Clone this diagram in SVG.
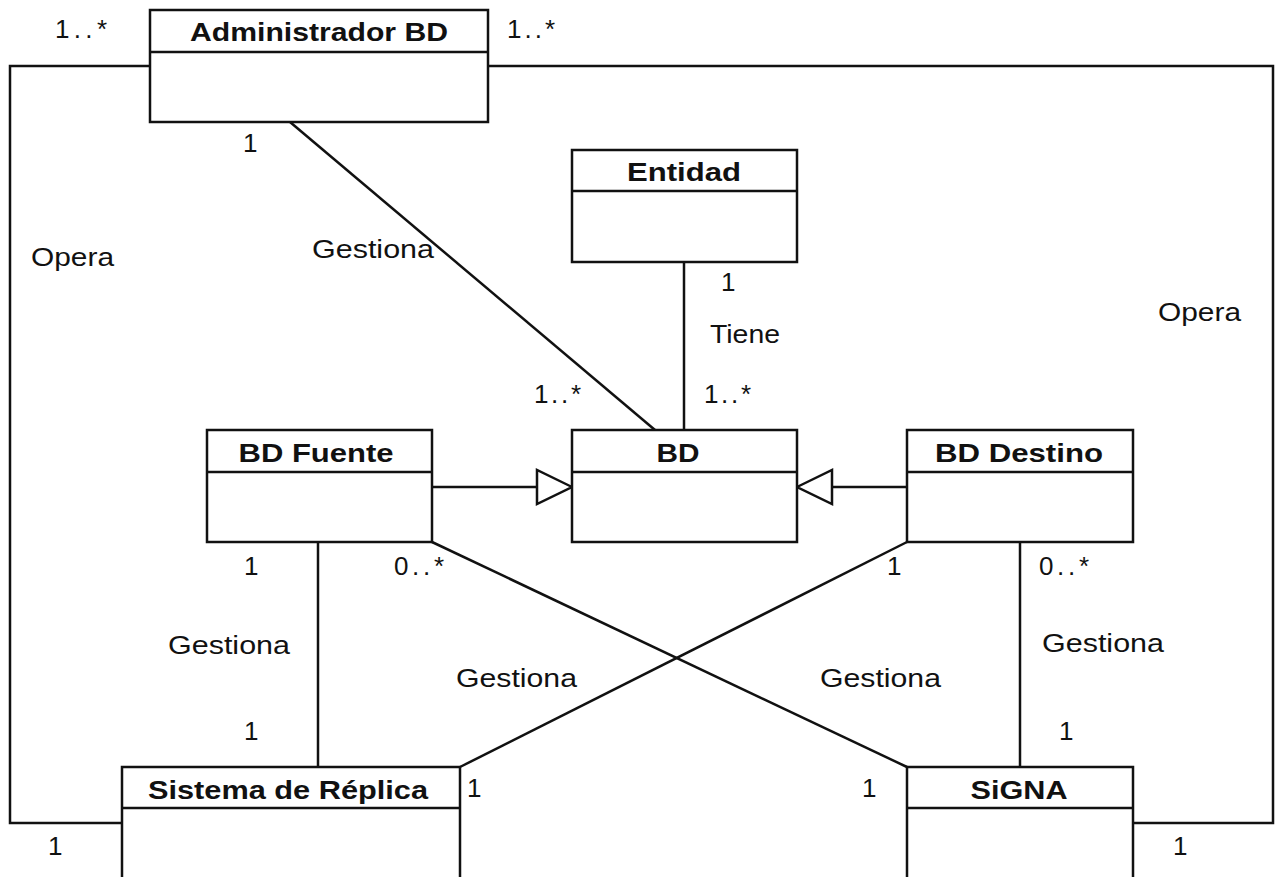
<svg xmlns="http://www.w3.org/2000/svg" width="1277" height="877" viewBox="0 0 1277 877">
  <style>
    .box { fill: #ffffff; stroke: #111111; stroke-width: 2.5; }
    .div { stroke: #111111; stroke-width: 2.5; }
    .title { font-family: "Liberation Sans", Arial, sans-serif; font-weight: bold; font-size: 26px; fill: #111111; text-anchor: middle; }
    .lbl { font-family: "Liberation Sans", Arial, sans-serif; font-size: 26px; fill: #111111; }
    .edge { fill: none; stroke: #111111; stroke-width: 2.5; }
    .gen { fill: #ffffff; stroke: #111111; stroke-width: 2.5; stroke-linejoin: miter; }
  </style>
  <rect width="1277" height="877" fill="#ffffff"/>

  <!-- associations and generalizations -->
  <g id="connectors">
    <!-- Opera (left loop) -->
    <polyline class="edge" points="150,66 10,66 10,823 122,823"/>
    <!-- Opera (right loop) -->
    <polyline class="edge" points="488,66 1273,66 1273,823 1133,823"/>
    <!-- Administrador BD - BD -->
    <line class="edge" x1="290" y1="122" x2="655" y2="430"/>
    <!-- Entidad - BD -->
    <line class="edge" x1="684" y1="262" x2="684" y2="430"/>
    <!-- BD Fuente generalizes to BD -->
    <line class="edge" x1="432" y1="487" x2="537" y2="487"/>
    <polygon class="gen" points="572,487 537,470 537,504"/>
    <!-- BD Destino generalizes to BD -->
    <line class="edge" x1="907" y1="487" x2="832" y2="487"/>
    <polygon class="gen" points="797,487 832,470 832,504"/>
    <!-- BD Fuente - Sistema de Réplica -->
    <line class="edge" x1="318" y1="542" x2="318" y2="767"/>
    <!-- BD Fuente - SiGNA -->
    <line class="edge" x1="432" y1="542" x2="907" y2="767"/>
    <!-- BD Destino - Sistema de Réplica -->
    <line class="edge" x1="907" y1="542" x2="460" y2="767"/>
    <!-- BD Destino - SiGNA -->
    <line class="edge" x1="1020" y1="542" x2="1020" y2="767"/>
  </g>

  <!-- association labels and multiplicities -->
  <g id="labels" class="lbl">
    <text x="55" y="38" textLength="52" lengthAdjust="spacing">1..*</text>
    <text x="507" y="38" textLength="48" lengthAdjust="spacing">1..*</text>
    <text x="243" y="152">1</text>
    <text x="312" y="258" textLength="122" lengthAdjust="spacingAndGlyphs">Gestiona</text>
    <text x="31" y="266" textLength="83" lengthAdjust="spacingAndGlyphs">Opera</text>
    <text x="1158" y="321" textLength="83" lengthAdjust="spacingAndGlyphs">Opera</text>
    <text x="721" y="291">1</text>
    <text x="710" y="343" textLength="70" lengthAdjust="spacingAndGlyphs">Tiene</text>
    <text x="704" y="403" textLength="47" lengthAdjust="spacing">1..*</text>
    <text x="534" y="403" textLength="47" lengthAdjust="spacing">1..*</text>
    <text x="244" y="575">1</text>
    <text x="394" y="575" textLength="50" lengthAdjust="spacing">0..*</text>
    <text x="887" y="575">1</text>
    <text x="1039" y="575" textLength="50" lengthAdjust="spacing">0..*</text>
    <text x="168" y="654" textLength="122" lengthAdjust="spacingAndGlyphs">Gestiona</text>
    <text x="1042" y="652" textLength="122" lengthAdjust="spacingAndGlyphs">Gestiona</text>
    <text x="456" y="687" textLength="121" lengthAdjust="spacingAndGlyphs">Gestiona</text>
    <text x="820" y="687" textLength="121" lengthAdjust="spacingAndGlyphs">Gestiona</text>
    <text x="244" y="740">1</text>
    <text x="1059" y="740">1</text>
    <text x="467" y="797">1</text>
    <text x="862" y="797">1</text>
    <text x="48" y="855">1</text>
    <text x="1173" y="855">1</text>
  </g>

  <g id="administrador-bd">
    <rect class="box" x="150" y="10" width="338" height="112"/>
    <line class="div" x1="150" y1="52" x2="488" y2="52"/>
    <text class="title" x="319" y="41" textLength="258" lengthAdjust="spacingAndGlyphs">Administrador BD</text>
  </g>

  <g id="entidad">
    <rect class="box" x="572" y="150" width="225" height="112"/>
    <line class="div" x1="572" y1="191" x2="797" y2="191"/>
    <text class="title" x="684" y="181" textLength="114" lengthAdjust="spacingAndGlyphs">Entidad</text>
  </g>

  <g id="bd">
    <rect class="box" x="572" y="430" width="225" height="112"/>
    <line class="div" x1="572" y1="472" x2="797" y2="472"/>
    <text class="title" x="678" y="462" textLength="43" lengthAdjust="spacingAndGlyphs">BD</text>
  </g>

  <g id="bd-fuente">
    <rect class="box" x="207" y="430" width="225" height="112"/>
    <line class="div" x1="207" y1="472" x2="432" y2="472"/>
    <text class="title" x="316" y="462" textLength="155" lengthAdjust="spacingAndGlyphs">BD Fuente</text>
  </g>

  <g id="bd-destino">
    <rect class="box" x="907" y="430" width="226" height="112"/>
    <line class="div" x1="907" y1="472" x2="1133" y2="472"/>
    <text class="title" x="1019" y="462" textLength="168" lengthAdjust="spacingAndGlyphs">BD Destino</text>
  </g>

  <g id="sistema-de-replica">
    <rect class="box" x="122" y="767" width="338" height="120"/>
    <line class="div" x1="122" y1="808" x2="460" y2="808"/>
    <text class="title" x="288" y="799" textLength="280" lengthAdjust="spacingAndGlyphs">Sistema de Réplica</text>
  </g>

  <g id="signa">
    <rect class="box" x="907" y="767" width="226" height="120"/>
    <line class="div" x1="907" y1="808" x2="1133" y2="808"/>
    <text class="title" x="1019" y="799" textLength="97" lengthAdjust="spacingAndGlyphs">SiGNA</text>
  </g>
</svg>
